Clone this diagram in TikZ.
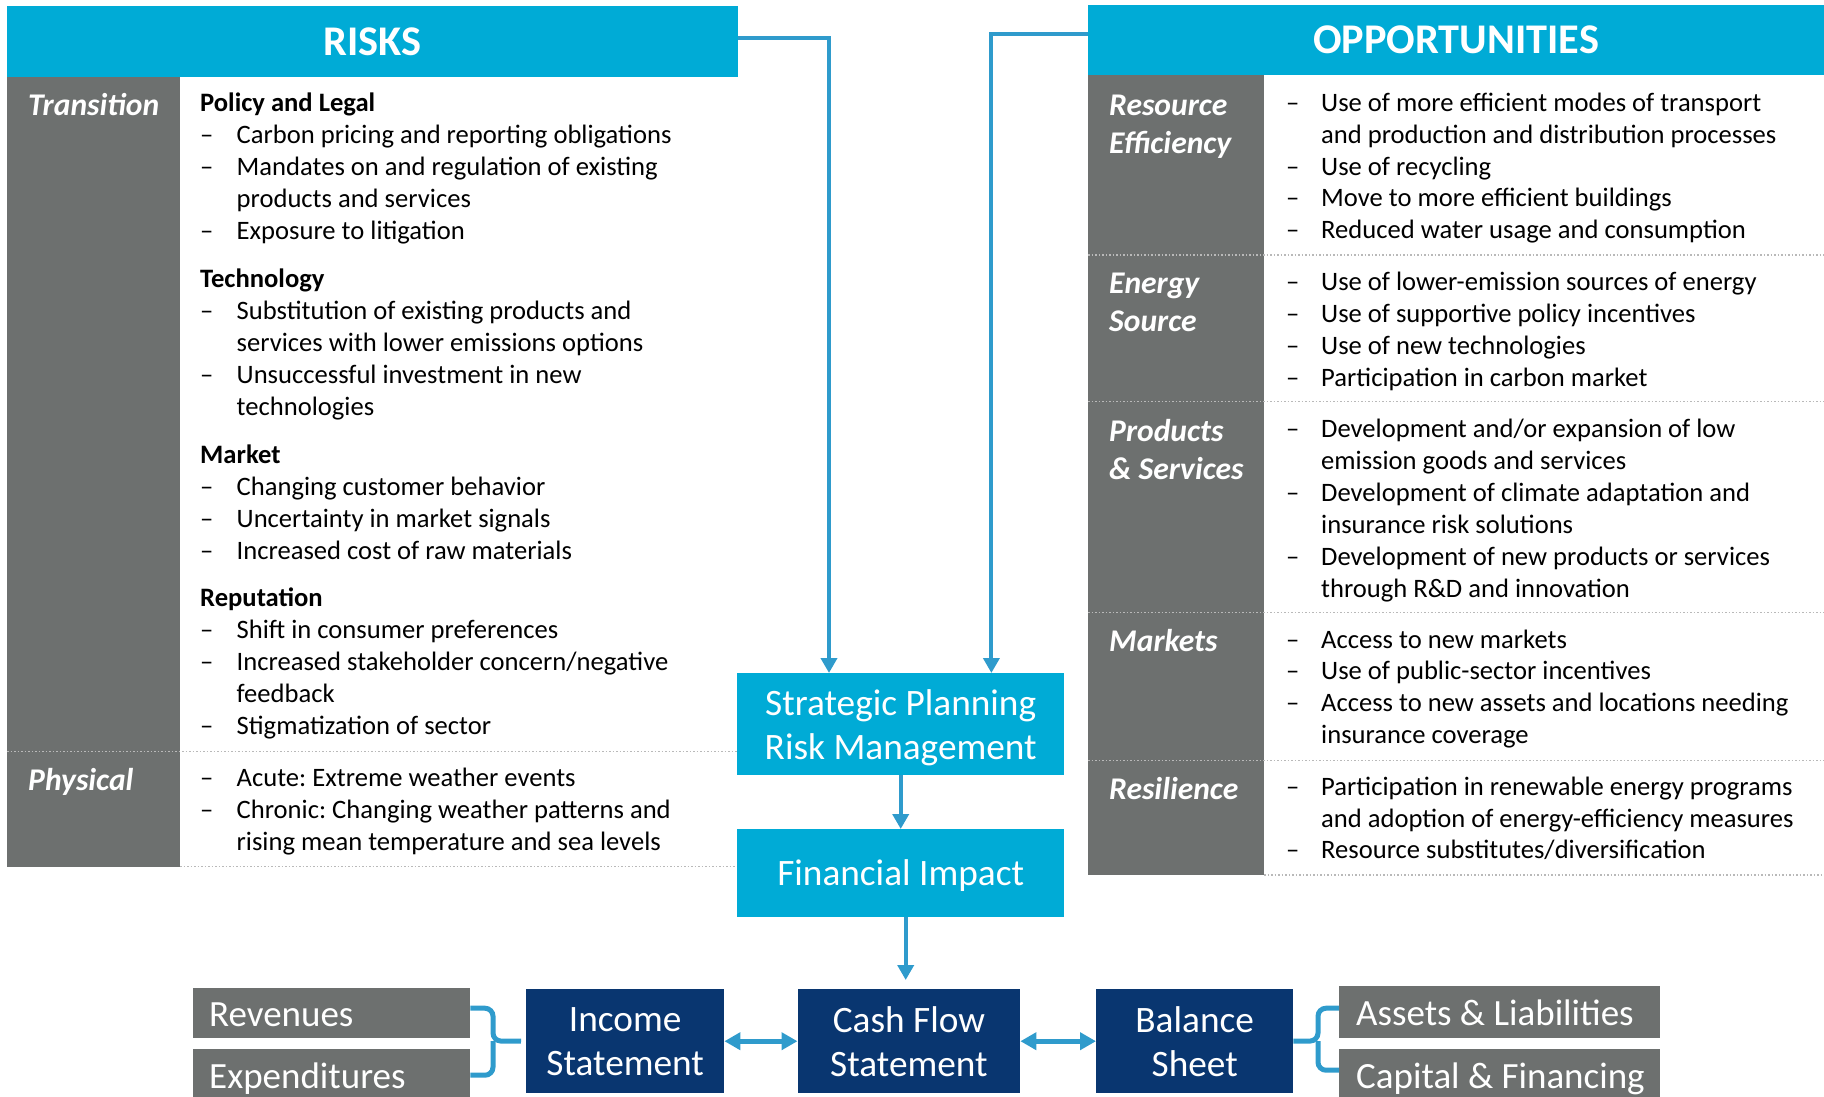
\documentclass[tikz,border=0pt]{standalone}
\usepackage{fontspec}
\setmainfont{Carlito}
\usetikzlibrary{arrows.meta,calc}
\frenchspacing
\definecolor{cyanh}{RGB}{0,171,214}
\definecolor{grayc}{RGB}{109,112,111}
\definecolor{navy}{RGB}{9,54,112}
\definecolor{arrc}{RGB}{47,155,204}
\definecolor{sepc}{RGB}{185,185,185}
\newlength\dashw
\setlength\dashw{36.5pt}
\newcommand\dl[1]{\makebox[\dashw][l]{–}#1}
\newcommand\cl[1]{\hspace*{\dashw}#1}
% note: for multi-line nodes the base anchor sits on the LAST line's baseline
\tikzset{
  body/.style={anchor=base west, inner sep=0pt, align=left, font=\fontsize{26.6}{32}\selectfont, text=black},
  rbody/.style={body, execute at begin node={\setlength\dashw{36.5pt}}},
  obody/.style={body, font=\fontsize{26.6}{31.9}\selectfont, execute at begin node={\setlength\dashw{35pt}}},
  lab/.style={anchor=base west, inner sep=0pt, align=left, font=\fontsize{31.6}{38}\selectfont\bfseries\itshape, text=white},
  hdr/.style={fill=cyanh, text=white, font=\fontsize{42.3}{50}\selectfont\bfseries, inner sep=0pt, anchor=north west},
  cbox/.style={fill=cyanh, text=white, font=\fontsize{37.3}{44}\selectfont, align=center, inner sep=0pt, anchor=north west},
  nbox/.style={fill=navy, text=white, font=\fontsize{37.3}{44}\selectfont, align=center, inner sep=0pt, anchor=north west},
  gbox/.style={fill=grayc, text=white, font=\fontsize{37}{43}\selectfont, inner ysep=0pt, text height=27.5pt, text depth=0pt, anchor=north west},
  arr/.style={draw=arrc, line width=4pt, -{Triangle[length=15pt,width=16pt]}},
  darr/.style={draw=arrc, line width=5pt, {Triangle[length=16pt,width=17pt]}-{Triangle[length=16pt,width=17pt]}},
  brc/.style={draw=arrc, line width=5pt, rounded corners=8pt},
  sepl/.style={draw=sepc, line width=1.5pt, dotted}
}
\begin{document}
\begin{tikzpicture}[x=1pt,y=-1pt]
\useasboundingbox (0,0) rectangle (1824,1096);
\clip (0,0) rectangle (1824,1096);
% headers
\node[hdr, minimum width=731pt, minimum height=71pt] (risks) at (7,6) {RISKS};
\node[hdr, minimum width=736pt, minimum height=70pt] (opp) at (1088,5) {OPPORTUNITIES};
% gray columns
\fill[grayc] (7,77) rectangle (180,867);
\fill[grayc] (1088,75) rectangle (1264,875);
% separators
\draw[sepl] (7,751.7) -- (738,751.7);
\draw[sepl] (180,866.7) -- (738,866.7);
\draw[sepl] (1088,255) -- (1824,255);
\draw[sepl] (1088,401.7) -- (1824,401.7);
\draw[sepl] (1088,612.7) -- (1824,612.7);
\draw[sepl] (1088,760.7) -- (1824,760.7);
\draw[sepl] (1264,875) -- (1824,875);
% labels (anchored on last baseline)
\node[lab] (ltr) at (28,115) {Transition};
\node[lab] (lph) at (28,790) {Physical};
\node[lab] (lre) at (1109,153) {Resource\\Efficiency};
\node[lab] (les) at (1109,331.5) {Energy\\Source};
\node[lab] (lps) at (1109,479.5) {Products\\\& Services};
\node[lab] (lmk) at (1109,651.7) {Markets};
\node[lab] (lrs) at (1109,799.3) {Resilience};
% risks text (anchored on last baseline)
\node[rbody] (pol) at (200,239) {\textbf{Policy and Legal}\\
\dl{Carbon pricing and reporting obligations}\\
\dl{Mandates on and regulation of existing}\\
\cl{products and services}\\
\dl{Exposure to litigation}};
\node[rbody] (tech) at (200,415) {\textbf{Technology}\\
\dl{Substitution of existing products and}\\
\cl{services with lower emissions options}\\
\dl{Unsuccessful investment in new}\\
\cl{technologies}};
\node[rbody] (mkt) at (200,559) {\textbf{Market}\\
\dl{Changing customer behavior}\\
\dl{Uncertainty in market signals}\\
\dl{Increased cost of raw materials}};
\node[rbody] (rep) at (200,734.5) {\textbf{Reputation}\\
\dl{Shift in consumer preferences}\\
\dl{Increased stakeholder concern/negative}\\
\cl{feedback}\\
\dl{Stigmatization of sector}};
\node[rbody] (phys) at (200,850) {\dl{Acute: Extreme weather events}\\
\dl{Chronic: Changing weather patterns and}\\
\cl{rising mean temperature and sea levels}};
% opportunities text (anchored on last baseline)
\node[obody] (ore) at (1286,238.8) {\dl{Use of more efficient modes of transport}\\
\cl{and production and distribution processes}\\
\dl{Use of recycling}\\
\dl{Move to more efficient buildings}\\
\dl{Reduced water usage and consumption}};
\node[obody] (oes) at (1286,386.6) {\dl{Use of lower-emission sources of energy}\\
\dl{Use of supportive policy incentives}\\
\dl{Use of new technologies}\\
\dl{Participation in carbon market}};
\node[obody] (ops) at (1286,597.1) {\dl{Development and/or expansion of low}\\
\cl{emission goods and services}\\
\dl{Development of climate adaptation and}\\
\cl{insurance risk solutions}\\
\dl{Development of new products or services}\\
\cl{through R\&D and innovation}};
\node[obody] (omk) at (1286,743.7) {\dl{Access to new markets}\\
\dl{Use of public-sector incentives}\\
\dl{Access to new assets and locations needing}\\
\cl{insurance coverage}};
\node[obody] (ors) at (1286,858.9) {\dl{Participation in renewable energy programs}\\
\cl{and adoption of energy-efficiency measures}\\
\dl{Resource substitutes/diversification}};
% center boxes
\node[cbox, minimum width=327pt, minimum height=102pt, text depth=0pt] (sp) at (737,673) {Strategic Planning\\Risk Management};
\node[cbox, minimum width=327pt, minimum height=88pt, text height=25pt, text depth=0pt] (fi) at (737,829) {Financial Impact};
% bottom row
\node[nbox, minimum width=198pt, minimum height=104pt] (inc) at (526,989) {Income\\Statement};
\node[nbox, minimum width=222.5pt, minimum height=104pt] (cf) at (797.5,989) {Cash Flow\\Statement};
\node[nbox, minimum width=197pt, minimum height=104pt] (bs) at (1096,989) {Balance\\Sheet};
\node[gbox, minimum height=50pt, inner xsep=16pt] (rev) at (193,988) {\makebox[245pt][l]{Revenues}};
\node[gbox, minimum height=52pt, inner xsep=16pt] (exp) at (193,1049) {\makebox[245pt][l]{Expenditures}};
\node[gbox, minimum height=52pt, inner xsep=17pt] (al) at (1339,986) {\makebox[286.5pt][l]{Assets \& Liabilities}};
\node[gbox, minimum height=52pt, inner xsep=17pt] (cap) at (1339,1049) {\makebox[286.5pt][l]{Capital \& Financing}};
% arrows
\draw[arr] ([yshift=3.5pt]risks.east) -| ([xshift=92pt]sp.north west);
\draw[arr] ([yshift=6pt]opp.west) -| ([xshift=-73pt]sp.north east);
\draw[arr] (sp.south) -- (fi.north);
\draw[arr, shorten >=9pt] ([xshift=5pt]fi.south) -- ([xshift=5pt]fi.south |- cf.north);
\draw[darr] (inc.east) -- (cf.west);
\draw[darr] (cf.east) -- (bs.west);
% braces
\coordinate (lb) at (493,1041);
\draw[brc] ([yshift=5pt]rev.east) -| (lb) -- ([xshift=-5pt]inc.west);
\draw[brc] (exp.east) -| (lb);
\coordinate (rb) at (1318,1041);
\draw[brc] ([yshift=4pt]al.west) -| (rb) -- (bs.east);
\draw[brc] ([yshift=5pt]cap.west) -| (rb);
\end{tikzpicture}
\end{document}
